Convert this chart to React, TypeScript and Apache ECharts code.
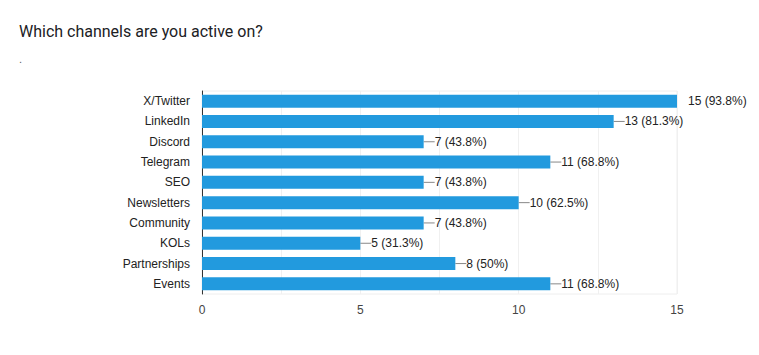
import React, { useEffect, useRef } from "react";
import * as echarts from "echarts";

const categories = ["X/Twitter", "LinkedIn", "Discord", "Telegram", "SEO", "Newsletters", "Community", "KOLs", "Partnerships", "Events"];
const counts = [15, 13, 7, 11, 7, 10, 7, 5, 8, 11];
const percents = ["93.8%", "81.3%", "43.8%", "68.8%", "43.8%", "62.5%", "43.8%", "31.3%", "50%", "68.8%"];
const xTicks = [0, 5, 10, 15];

export default function App() {
  const ref = useRef<HTMLDivElement>(null);
  useEffect(() => {
    if (!ref.current) return;
    const chart = echarts.init(ref.current, null, { renderer: "svg" });
    const maxVal = Math.max(...counts);
    chart.setOption({
      animation: false,
      textStyle: { fontFamily: "Liberation Sans, Arial, sans-serif" },
      title: {
        text: "Which channels are you active on?",
        left: 6,
        top: 10,
        textStyle: { fontFamily: "Roboto, sans-serif", fontSize: 16, fontWeight: "normal", color: "#202124" },
        subtext: ".",
        itemGap: 14,
        subtextStyle: { fontSize: 11, color: "#5f6368" },
      },
      grid: { left: 194, right: 90, top: 83, bottom: 69, show: true, borderColor: "#eeeeee", borderWidth: 1 },
      xAxis: {
        type: "value",
        min: 0,
        max: 15,
        interval: 2.5,
        axisLine: { show: false },
        axisTick: { show: false },
        splitLine: { lineStyle: { color: "#f0f0f0" } },
        axisLabel: {
          color: "#444",
          fontSize: 12,
          margin: 10,
          formatter: (v: number) => (xTicks.includes(v) ? String(v) : ""),
        },
      },
      yAxis: {
        type: "category",
        inverse: true,
        data: categories,
        axisLine: { show: true, lineStyle: { color: "#333", width: 1 } },
        axisTick: { show: false },
        axisLabel: { color: "#222", fontSize: 12, margin: 12 },
      },
      series: [
        {
          type: "bar",
          data: counts.map((v) => ({
            value: v,
            labelLine: { show: v !== maxVal },
          })),
          barWidth: 13,
          itemStyle: { color: "#229ade" },
          label: {
            show: true,
            position: "right",
            distance: 0,
            color: "#222",
            fontSize: 12,
            formatter: (p: any) => `${p.value} (${percents[p.dataIndex]})`,
          },
          labelLayout: { dx: 11 },
          labelLine: { show: true, lineStyle: { color: "#888", width: 1 } },
        },
      ],
    });
    return () => chart.dispose();
  }, []);
  return <div ref={ref} style={{ width: 759, height: 355 }} />;
}
